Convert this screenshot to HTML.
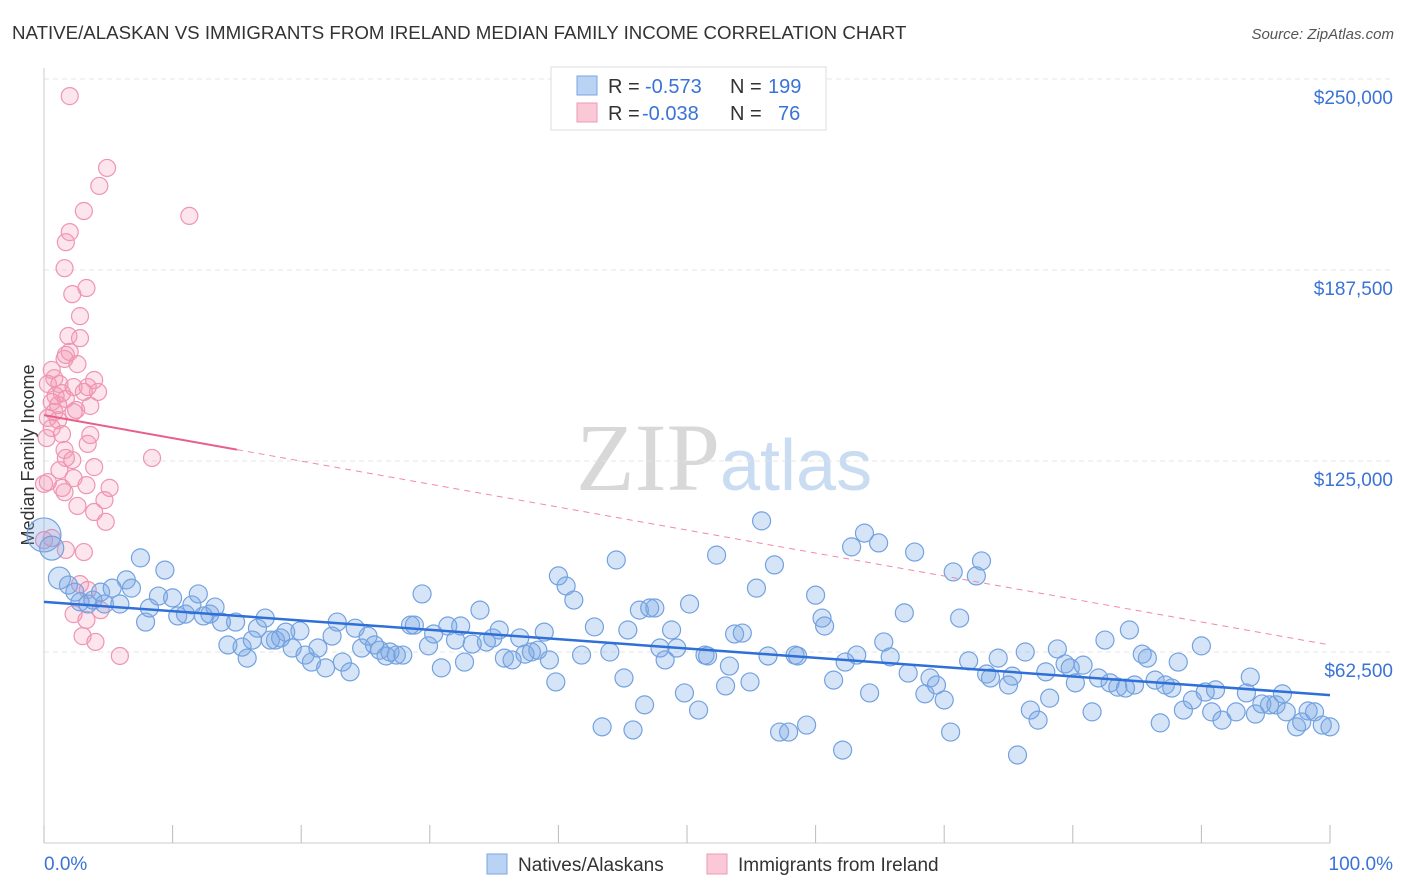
<!DOCTYPE html>
<html><head><meta charset="utf-8"><style>
body{margin:0;background:#fff;font-family:"Liberation Sans",sans-serif;}
#wrap{position:relative;width:1406px;height:892px;overflow:hidden;}
</style></head><body>
<div id="wrap">
<svg id="svg" width="1406" height="892" xmlns="http://www.w3.org/2000/svg">
<text x="12" y="39" font-size="18.7" fill="#333">NATIVE/ALASKAN VS IMMIGRANTS FROM IRELAND MEDIAN FAMILY INCOME CORRELATION CHART</text>
<text x="1394" y="39" font-size="15" fill="#555" font-style="italic" text-anchor="end">Source: ZipAtlas.com</text>
<text x="720" y="490" font-size="96" fill="#d8d8d8" text-anchor="end" font-family="Liberation Serif">ZIP</text>
<text x="720" y="490" font-size="72" fill="#c9dcf2">atlas</text>
<text transform="translate(34,455) rotate(-90)" font-size="18" fill="#333" text-anchor="middle">Median Family Income</text>
<g id="grid"></g><g id="pink"></g><g id="blue"></g><g id="lines"></g>
<g>
<rect x="551" y="67" width="275" height="63" fill="#fff" stroke="#ddd"/>
<rect x="577" y="76" width="20" height="19" fill="#b9d3f5" stroke="#7aa6e3"/>
<rect x="577" y="103" width="20" height="19" fill="#fbc8d7" stroke="#ee9ab4"/>
<text x="608" y="93" font-size="20" fill="#333">R = </text><text x="645" y="93" font-size="20" fill="#3a73d6">-0.573</text>
<text x="730" y="93" font-size="20" fill="#333">N = </text><text x="768" y="93" font-size="20" fill="#3a73d6">199</text>
<text x="608" y="120" font-size="20" fill="#333">R = </text><text x="642" y="120" font-size="20" fill="#3a73d6">-0.038</text>
<text x="730" y="120" font-size="20" fill="#333">N = </text><text x="778" y="120" font-size="20" fill="#3a73d6">76</text>
</g>
<g>
<rect x="487" y="854" width="20" height="20" fill="#b9d3f5" stroke="#7aa6e3"/>
<text x="518" y="871" font-size="19" fill="#333">Natives/Alaskans</text>
<rect x="707" y="854" width="20" height="20" fill="#fbc8d7" stroke="#ee9ab4"/>
<text x="738" y="871" font-size="19" fill="#333">Immigrants from Ireland</text>
</g>
<text x="44" y="870" font-size="19" fill="#3a73d6">0.0%</text>
<text x="1393" y="870" font-size="19" fill="#3a73d6" text-anchor="end">100.0%</text>
</svg>
</div>
<script>
const yTicks=[62500,125000,187500,250000];
const yTickLabels=["$62,500","$125,000","$187,500","$250,000"];
const xTicks=[0,10,20,30,40,50,60,70,80,90,100];
const blueX=[0,0.6,1.2,1.9,2.4,2.8,3.4,3.8,4.4,4.7,5.3,5.9,6.4,6.8,7.5,7.9,8.2,8.9,9.4,10.0,10.4,11.0,11.5,12.0,12.4,12.9,13.3,13.8,14.3,14.9,15.4,15.8,16.2,16.6,17.2,17.6,18.0,18.4,18.8,19.3,19.9,20.3,20.8,21.3,21.9,22.4,22.8,23.2,23.8,24.2,24.7,25.2,25.7,26.1,26.6,26.9,27.4,27.9,28.5,28.8,29.4,29.9,30.3,30.9,31.4,32.0,32.4,32.7,33.3,33.9,34.4,34.9,35.4,35.8,36.4,37.0,37.4,37.9,38.4,38.9,39.3,39.8,40.0,40.6,41.2,41.8,42.8,43.4,44.0,44.5,45.1,45.4,45.8,46.3,46.7,47.1,47.5,47.9,48.3,48.8,49.2,49.8,50.2,50.9,51.4,51.6,52.3,53.0,53.3,53.7,54.3,54.9,55.4,55.8,56.3,56.8,57.2,57.9,58.4,58.6,59.3,60.0,60.5,60.7,61.4,62.1,62.3,62.8,63.2,63.8,64.2,64.9,65.3,65.8,66.9,67.2,67.7,68.5,68.9,69.4,70.0,70.5,70.7,71.2,71.9,72.5,72.9,73.3,73.6,74.2,75.0,75.3,75.7,76.3,76.7,77.3,77.9,78.2,78.8,79.4,79.8,80.2,80.8,81.5,82.0,82.5,82.9,83.5,84.1,84.4,84.8,85.4,85.8,86.4,86.8,87.2,87.7,88.2,88.6,89.3,90.0,90.3,90.8,91.1,91.6,92.7,93.5,93.8,94.2,94.7,95.3,95.8,96.3,96.6,97.4,97.8,98.3,98.8,99.4,100];
const blueY=[100.8,96.5,86.7,84.4,82.1,78.9,78.2,79.5,82.1,78.2,83.4,78.2,86.1,83.4,93.3,72.3,76.9,80.8,89.3,80.2,74.3,74.9,77.9,81.5,74.3,74.9,77.2,72.3,64.8,72.3,64.1,60.5,66.4,70.3,73.6,66.4,66.4,67.1,69.0,63.8,69.4,61.5,59.2,63.8,57.3,67.7,72.3,59.2,56.0,70.3,63.8,67.7,64.8,63.1,61.2,62.5,61.5,61.5,71.3,71.3,81.5,64.5,68.4,57.3,71.0,66.4,71.0,59.2,65.1,76.2,65.8,67.1,69.7,60.5,59.9,67.1,61.8,62.5,63.1,69.0,59.9,52.7,87.4,84.1,79.5,61.5,70.7,38.0,62.5,92.6,54.0,69.7,37.0,76.2,45.2,76.9,76.9,63.8,59.9,69.7,63.8,49.1,78.2,43.5,61.5,61.2,94.2,51.4,57.9,68.4,68.7,52.7,83.4,105.4,61.2,91.0,36.3,36.3,61.5,61.2,38.6,81.1,73.6,71.0,53.3,30.4,59.2,96.9,61.5,101.4,49.1,98.2,65.8,60.9,75.3,55.6,95.2,48.8,54.0,51.7,46.8,36.3,88.7,73.6,59.6,87.4,92.3,55.3,54.0,60.5,51.7,54.6,28.8,62.5,43.5,40.2,56.0,47.4,63.5,58.6,57.3,52.4,58.2,42.9,54.0,66.4,52.4,51.0,50.7,69.7,51.7,61.8,60.5,53.3,39.3,51.7,50.7,59.2,43.5,46.8,64.5,49.4,42.9,50.1,40.2,42.9,49.1,54.3,42.2,45.5,45.2,45.2,48.8,42.9,38.0,39.6,43.2,42.9,38.6,38.0];
const pinkX=[2.0,4.9,4.3,11.3,3.1,2.0,1.7,1.6,3.3,2.2,2.8,1.9,2.8,1.7,2.0,1.6,2.6,0.6,0.8,3.9,0.3,1.2,2.3,3.4,4.2,3.1,0.9,1.4,1.7,0.6,1.1,2.5,3.6,0.8,2.3,0.3,1.1,0.6,1.4,3.6,3.4,0.2,1.6,1.7,2.2,8.4,3.9,1.2,2.3,0.3,3.3,5.1,1.6,4.7,2.6,3.9,4.8,0.6,1.7,3.1,0,2.8,3.4,2.3,4.4,3.3,3.0,4.0,5.9,0,1.4];
const pinkY=[244.4,220.9,215.0,205.2,206.8,199.9,196.6,188.1,181.6,179.6,172.4,165.9,165.2,159.7,160.7,158.4,156.7,154.8,152.1,151.5,150.2,150.2,149.2,149.2,147.6,147.6,146.3,147.2,145.3,144.3,143.3,141.7,143.0,141.0,141.0,139.1,138.4,135.8,133.8,133.5,130.6,132.5,128.6,126.0,125.3,126.0,123.0,122.0,119.4,118.1,117.1,116.2,114.8,112.2,110.3,108.3,105.1,99.8,95.9,95.2,99.1,84.7,82.8,74.9,76.2,73.0,67.7,65.8,61.2,117.5,116.2];
const blueTrend=[78.9,48.4];
const pinkTrend=[140.0,64.8];

const NS="http://www.w3.org/2000/svg";
const X0=44,X1=1330,YB=843;
function sx(p){return X0+(X1-X0)*p/100;}
function sy(k){return YB-k*1000/62500*191;}
function mk(tag,attrs,parent){const e=document.createElementNS(NS,tag);for(const k in attrs)e.setAttribute(k,attrs[k]);parent.appendChild(e);return e;}
const grid=document.getElementById('grid');
yTicks.forEach((v,i)=>{
 const y=sy(v/1000);
 const l=mk('line',{x1:X0,x2:1394,y1:y,y2:y,stroke:'#e4e4e4','stroke-dasharray':'5,4'},grid);
 
 
 const t=mk('text',{x:1393,y:y+25,'font-size':19,fill:'#3a73d6','text-anchor':'end'},grid);
 t.textContent=yTickLabels[i];
 
 
});
const ax=mk('line',{x1:X0,x2:X0,y1:68,y2:YB,stroke:'#ccc'},grid);


const bx=mk('line',{x1:X0,x2:X1,y1:YB,y2:YB,stroke:'#ccc'},grid);


xTicks.forEach(p=>{
 const t=mk('line',{x1:sx(p),x2:sx(p),y1:YB-18,y2:YB,stroke:'#bbb'},grid);
 
 
});
const pg=document.getElementById('pink');
pinkX.forEach((p,i)=>{
 const c=mk('circle',{cx:sx(p),cy:sy(pinkY[i]),r:8.5,fill:'rgba(244,150,180,0.25)',stroke:'#ef95b2','stroke-width':1.2},pg);
 
 
});
const bg=document.getElementById('blue');
blueX.forEach((p,i)=>{
 const r=i==0?17:(i==1?12:(i==2?11:9));
 const c=mk('circle',{cx:sx(p),cy:sy(blueY[i]),r:r,fill:'rgba(120,165,230,0.3)',stroke:'#73a2e0','stroke-width':1.2},bg);
 
 
});
const lg=document.getElementById('lines');
const bl=mk('line',{x1:sx(0),y1:sy(blueTrend[0]),x2:sx(100),y2:sy(blueTrend[1]),stroke:'#2f6fd8','stroke-width':2.5},lg);


const pAt=p=>pinkTrend[0]+(pinkTrend[1]-pinkTrend[0])*p/100;
const ps=mk('line',{x1:sx(0),y1:sy(pAt(0)),x2:sx(15),y2:sy(pAt(15)),stroke:'#e8608a','stroke-width':2},lg);


const pd=mk('line',{x1:sx(15),y1:sy(pAt(15)),x2:sx(100),y2:sy(pAt(100)),stroke:'#ee8aa8','stroke-width':1,'stroke-dasharray':'6,5'},lg);


</script>
</body></html>
